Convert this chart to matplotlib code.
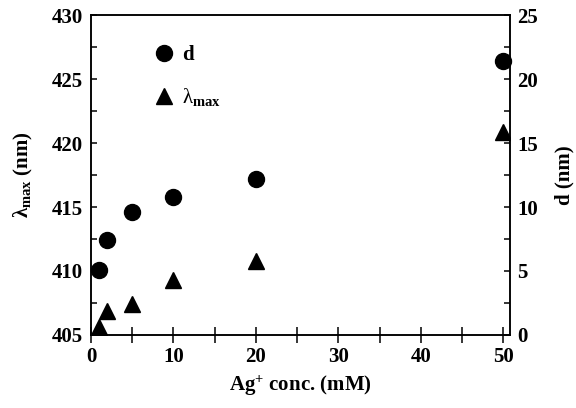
import matplotlib
matplotlib.use("Agg")
import matplotlib.pyplot as plt
from matplotlib.ticker import MultipleLocator

plt.rcParams["font.family"] = "Liberation Serif"
plt.rcParams["font.weight"] = "bold"
plt.rcParams["mathtext.fontset"] = "custom"
plt.rcParams["mathtext.rm"] = "Liberation Serif"
plt.rcParams["mathtext.bf"] = "Liberation Serif:bold"
plt.rcParams["mathtext.it"] = "Liberation Serif:italic"

# Ag+ konsentrasjon (mM)
konsentrasjon = [1, 2, 5, 10, 20, 50]
# partikkelstørrelse d (nm), høyre akse
d_verdier = [5.1, 7.4, 9.6, 10.8, 12.2, 21.4]
# absorpsjonsmaksimum (nm), venstre akse
lambda_verdier = [405.6, 406.9, 407.4, 409.3, 410.8, 420.9]

fs = 15

fig = plt.figure(figsize=(5.76, 4.08), dpi=100)
ax = fig.add_axes([0.158, 0.179, 0.727, 0.784])
ax2 = ax.twinx()

tri, = ax.plot(konsentrasjon, lambda_verdier, linestyle="none", marker="^",
               markersize=12, color="black", zorder=3)
sirkel, = ax2.plot(konsentrasjon, d_verdier, linestyle="none", marker="o",
                   markersize=11.5, color="black", clip_on=False, zorder=3)

ax.set_xlim(0, 50.8)
ax.set_ylim(405, 430)
ax2.set_ylim(0, 25)

ax.xaxis.set_major_locator(MultipleLocator(10))
ax.xaxis.set_minor_locator(MultipleLocator(5))
ax.yaxis.set_major_locator(MultipleLocator(5))
ax.yaxis.set_minor_locator(MultipleLocator(2.5))
ax2.yaxis.set_major_locator(MultipleLocator(5))
ax2.yaxis.set_minor_locator(MultipleLocator(2.5))

ax.tick_params(axis="x", which="both", direction="inout", length=11, width=1.1,
               pad=3, labelsize=fs, top=False)
ax.tick_params(axis="y", which="both", direction="in", length=4.5, width=1.1,
               pad=5.5, labelsize=fs, right=False)
ax2.tick_params(axis="y", which="both", direction="in", length=4.5, width=1.1,
                pad=5.5, labelsize=fs)

for a in (ax, ax2):
  for s in a.spines.values():
    s.set_linewidth(1.1)

ax.set_xlabel("Ag$^{\\mathbf{+}}$ conc. (mM)", fontsize=fs, fontweight="bold", labelpad=5)
ax.set_ylabel("λ$_{\\mathbf{max}}$ (nm)", fontsize=fs, fontweight="bold", labelpad=12.5)
ax2.set_ylabel("d (nm)", fontsize=fs, fontweight="bold", labelpad=12)

leg = ax.legend([sirkel, tri], ["d", "λ$_{\\rm max}$"], loc="upper left",
                bbox_to_anchor=(0.099, 0.965), frameon=False, fontsize=fs,
                handletextpad=0.3, labelspacing=1.0, handlelength=1.2)
tekster = leg.get_texts()
tekster[0].set_fontweight("bold")
tekster[1].set_fontweight("normal")

fig.savefig("out.png", dpi=100)
